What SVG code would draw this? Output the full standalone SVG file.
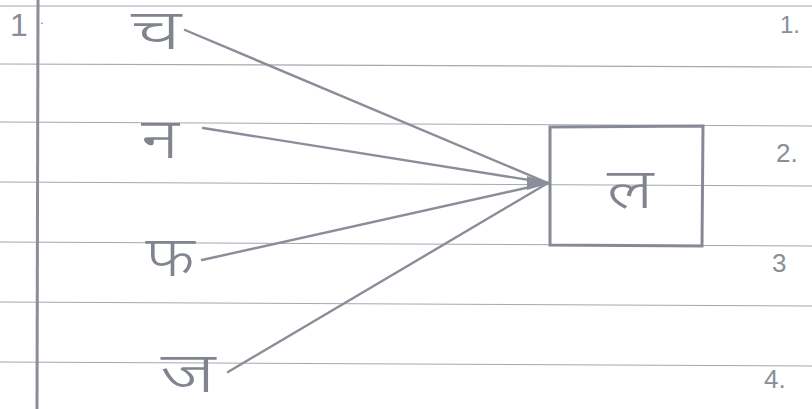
<svg xmlns="http://www.w3.org/2000/svg" width="812" height="409" viewBox="0 0 812 409">
<style>
.rule{stroke:#a4a8b0;stroke-width:1.2}
.pen{stroke:#868a94;stroke-width:3;fill:none;stroke-linecap:round}
.conn{stroke:#8a8e98;stroke-width:2.4;fill:none;stroke-linecap:round}
.t{font-family:"Noto Sans","Noto Sans Devanagari","Lohit Devanagari",sans-serif;fill:#80848e;font-size:56px;font-weight:300;text-anchor:middle}
.n{font-family:"Liberation Sans",sans-serif;fill:#8a8e98}
</style>
<rect width="812" height="409" fill="#ffffff"/>
<g id="paper">
<line class="rule" x1="0" y1="6" x2="812" y2="6"/>
<line class="rule" x1="0" y1="64" x2="812" y2="67"/>
<line class="rule" x1="0" y1="122" x2="812" y2="126"/>
<line class="rule" x1="0" y1="182" x2="812" y2="186"/>
<line class="rule" x1="0" y1="242" x2="812" y2="246"/>
<line class="rule" x1="0" y1="302" x2="812" y2="306"/>
<line class="rule" x1="0" y1="362" x2="812" y2="366"/>
<line stroke="#8a8e98" stroke-width="3" x1="38" y1="0" x2="37" y2="409"/>
<text class="n" x="10" y="36" font-size="32">1</text>
<text class="n" x="40" y="24" font-size="14">.</text>
<text class="n" x="780" y="33" font-size="24">1.</text>
<text class="n" x="776" y="162" font-size="26">2.</text>
<text class="n" x="772" y="272" font-size="26">3</text>
<text class="n" x="764" y="388" font-size="26">4.</text>
</g>
<g id="connectors">
<line class="conn" x1="185" y1="30" x2="548" y2="183"/>
<line class="conn" x1="203" y1="128" x2="548" y2="183"/>
<line class="conn" x1="202" y1="260" x2="548" y2="183"/>
<line class="conn" x1="228" y1="372" x2="548" y2="183"/>
<path d="M527,176 L550,183 L527,190 Z" fill="#8a8e98"/>
</g>
<g id="node-cha"><text class="t" font-size="46" transform="translate(156,49) scale(1.5,1)">च</text></g>
<g id="node-na"><text class="t" transform="translate(160,158) scale(1.3,1)">न</text></g>
<g id="node-pha"><text class="t" transform="translate(170,276) scale(1.2,1)">फ</text></g>
<g id="node-ja"><text class="t" font-size="50" transform="translate(188,392) scale(1.4,1)">ज</text></g>
<g id="node-la">
<path class="pen" d="M550,127 L703,126 L702,246 L550,245 Z"/>
<text class="t" transform="translate(630,208) scale(1.3,1)">ल</text>
</g>
</svg>
